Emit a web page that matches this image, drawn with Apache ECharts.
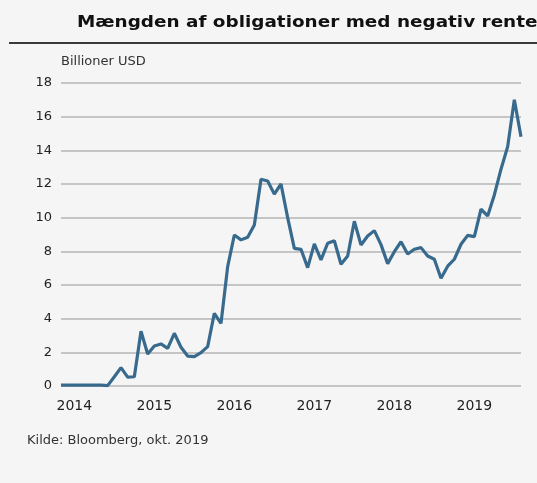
<!DOCTYPE html>
<html>
<head>
<meta charset="utf-8">
<script src="https://cdn.jsdelivr.net/npm/echarts@6/dist/echarts.min.js"></script>
<style>
  html, body { margin: 0; padding: 0; background: #f5f5f5; }
  #main { width: 537px; height: 483px; }
</style>
</head>
<body>
<div id="main"></div>
<script>
// måneder nov. 2013 - aug. 2019
var months = [];
for (var y = 2013; y <= 2019; y++) {
    for (var m = 1; m <= 12; m++) {
        if (y === 2013 && m < 11) continue;
        if (y === 2019 && m > 8) continue;
        months.push(y + '-' + (m < 10 ? '0' + m : m));
    }
}

// obligationer med negativ rente, billioner USD
var values = [
    0.05, 0.05, 0.05, 0.05, 0.05, 0.05, 0.05, 0.02, 0.55, 1.09,
    0.53, 0.55, 3.25, 1.90, 2.38, 2.50, 2.24, 3.13, 2.30, 1.78,
    1.74, 1.98, 2.34, 4.32, 3.72, 7.09, 8.97, 8.68, 8.84, 9.57,
    12.28, 12.18, 11.40, 12.00, 10.00, 8.18, 8.12, 7.03, 8.44, 7.49,
    8.48, 8.63, 7.23, 7.72, 9.79, 8.38, 8.91, 9.23, 8.40, 7.27,
    7.98, 8.57, 7.84, 8.12, 8.22, 7.72, 7.53, 6.40, 7.12, 7.53,
    8.42, 8.95, 8.87, 10.50, 10.10, 11.35, 12.88, 14.22, 17.00, 14.81
];

var yTicks = [0, 2, 4, 6, 8, 10, 12, 14, 16, 18];

var titleText = 'Mængden af obligationer med negativ rente';
var unitText = 'Billioner USD';
var sourceText = 'Kilde: Bloomberg, okt. 2019';

var chart = echarts.init(document.getElementById('main'));
var font = 'DejaVu Sans';

var option = {
    backgroundColor: '#f5f5f5',
    animation: false,
    textStyle: { fontFamily: font },
    grid: { left: 61, right: 16, top: 83, bottom: 97 },
    graphic: [
        {
            type: 'text', x: 77, y: 15, scaleX: 1.15,
            style: { text: titleText, fill: '#111', font: 'bold 16px "DejaVu Sans"', verticalAlign: 'top' }
        },
        {
            type: 'rect', shape: { x: 9, y: 42, width: 528, height: 2 },
            style: { fill: '#3a3a3a' }
        },
        {
            type: 'text', left: 61, top: 55,
            style: { text: unitText, fill: '#333', font: '13px "DejaVu Sans"' }
        },
        {
            type: 'text', left: 27, top: 434,
            style: { text: sourceText, fill: '#333', font: '13px "DejaVu Sans"' }
        }
    ],
    xAxis: {
        type: 'category',
        data: months,
        boundaryGap: false,
        axisLine: { show: false },
        axisTick: { show: false },
        axisLabel: {
            color: '#222',
            fontSize: 14,
            margin: 13,
            interval: function (i, v) { return v.slice(5) === '01'; },
            formatter: function (v) { return v.slice(0, 4); }
        },
        splitLine: { show: false }
    },
    yAxis: {
        type: 'value',
        min: yTicks[0],
        max: yTicks[yTicks.length - 1],
        interval: 2,
        axisLine: { show: false },
        axisTick: { show: false },
        axisLabel: { color: '#222', fontSize: 13, margin: 9 },
        splitLine: { lineStyle: { color: '#b4b4b4', width: 1.5 } }
    },
    series: [{
        type: 'line',
        data: values,
        symbol: 'none',
        lineStyle: { color: '#386a8e', width: 3.2 }
    }]
};
chart.setOption(option);
</script>
</body>
</html>
